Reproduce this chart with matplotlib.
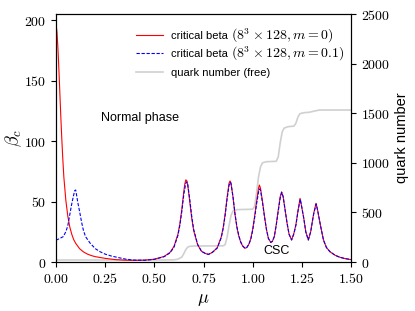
import matplotlib
matplotlib.use("Agg")
import matplotlib.pyplot as plt
from matplotlib.ticker import FuncFormatter, MultipleLocator

plt.rcParams['mathtext.fontset'] = 'cm'
plt.rcParams['font.family'] = ['Liberation Sans', 'DejaVu Sans']

# critical beta, m = 0
mu_red = [0.0, 0.005, 0.01, 0.015, 0.02, 0.025, 0.03, 0.035, 0.04, 0.05, 0.06, 0.07, 0.08,
          0.09, 0.10, 0.12, 0.14, 0.16, 0.18, 0.20, 0.25, 0.30, 0.35, 0.40, 0.45, 0.50,
          0.55, 0.58, 0.60, 0.62, 0.63, 0.64, 0.65, 0.655, 0.66, 0.665, 0.67, 0.68, 0.69,
          0.70, 0.72, 0.74, 0.76, 0.775, 0.79, 0.80, 0.82, 0.84, 0.85, 0.86, 0.87, 0.88,
          0.885, 0.89, 0.90, 0.91, 0.92, 0.93, 0.94, 0.95, 0.961, 0.97, 0.98, 0.99, 1.00,
          1.01, 1.02, 1.03, 1.034, 1.04, 1.05, 1.06, 1.07, 1.08, 1.092, 1.10, 1.11, 1.12,
          1.13, 1.14, 1.147, 1.155, 1.165, 1.175, 1.185, 1.198, 1.21, 1.22, 1.23, 1.241,
          1.25, 1.26, 1.27, 1.283, 1.295, 1.31, 1.322, 1.33, 1.345, 1.36, 1.375, 1.393,
          1.42, 1.444, 1.47, 1.50]
beta_red = [197, 190, 176, 158, 138, 118, 100, 84, 70, 51, 38, 29, 23,
            18.5, 15.5, 11, 8.3, 6.5, 5.3, 4.4, 3.0, 2.0, 1.5, 1.3, 1.5, 2.3,
            4.6, 8.0, 12.9, 23, 31.8, 44, 58.6, 64.5, 67.9, 67.3, 63.5, 50, 36.4,
            26, 14.3, 8.8, 7.0, 6.3, 7.5, 8.7, 11.8, 20.6, 28.4, 39.6, 53.6, 65.2,
            67, 65.2, 53.6, 39.6, 28.4, 21, 16, 13, 11.3, 12, 14.5, 19, 27,
            38, 50, 61, 63.6, 61, 50, 38, 27, 19.5, 16.2, 17, 21, 31,
            43, 54, 58, 54, 43, 32, 23, 18.2, 24, 31, 42, 52.6,
            45, 36, 25, 18.2, 25, 40, 48.5, 43, 30, 18.2, 12, 8.5,
            5.5, 3.9, 2.8, 2.0]

# critical beta, m = 0.1
mu_blue = [0.0, 0.02, 0.037, 0.05, 0.06, 0.071, 0.08, 0.088, 0.095, 0.10, 0.105, 0.11,
           0.122, 0.13, 0.139, 0.15, 0.173, 0.20, 0.224, 0.25, 0.28, 0.31, 0.35, 0.39,
           0.45, 0.50, 0.55, 0.58, 0.60, 0.62, 0.63, 0.64, 0.65, 0.66, 0.665, 0.67, 0.68,
           0.69, 0.70, 0.72, 0.74, 0.76, 0.775, 0.79, 0.80, 0.82, 0.84, 0.85, 0.86, 0.87,
           0.88, 0.887, 0.89, 0.90, 0.91, 0.92, 0.93, 0.94, 0.95, 0.961, 0.97, 0.98, 0.99,
           1.00, 1.01, 1.02, 1.03, 1.036, 1.04, 1.05, 1.06, 1.07, 1.08, 1.092, 1.10, 1.11,
           1.12, 1.13, 1.14, 1.148, 1.155, 1.165, 1.175, 1.185, 1.198, 1.21, 1.22, 1.23,
           1.242, 1.25, 1.26, 1.27, 1.283, 1.295, 1.31, 1.323, 1.33, 1.345, 1.36, 1.375,
           1.393, 1.42, 1.444, 1.47, 1.50]
beta_blue = [18, 19.5, 21, 25, 30, 40, 48, 54, 59, 59.5, 55, 50,
             40, 33, 26.4, 21, 15.7, 11, 8.5, 6.5, 5.0, 3.9, 2.5, 1.6,
             1.4, 2.2, 4.4, 7.6, 12.3, 22, 30.5, 42, 56, 65, 66.3, 64, 52,
             38, 27, 14.6, 8.8, 7.0, 6.3, 7.4, 8.6, 11.6, 20, 27.5, 38.5, 52,
             63.5, 66, 64.5, 54, 40, 29, 21.5, 16.3, 13.2, 11.4, 12, 14.4, 18.5,
             26, 36.5, 48, 58, 60.5, 59, 49, 37.5, 27, 19.5, 16.2, 17, 21,
             30.5, 42, 53, 57.5, 54, 43, 32, 23, 18.2, 23.5, 30.5, 41.5,
             52, 45, 36, 25, 18.2, 25, 39.5, 48, 43, 30, 18.2, 12,
             8.5, 5.5, 3.9, 2.8, 2.0]

# quark number (free)
mu_q = [0.0, 0.55, 0.60, 0.62, 0.64, 0.65, 0.66, 0.67, 0.68, 0.70, 0.85, 0.86, 0.87,
        0.88, 0.89, 0.90, 0.92, 1.00, 1.01, 1.02, 1.03, 1.04, 1.05, 1.07, 1.12, 1.13,
        1.14, 1.15, 1.16, 1.18, 1.21, 1.22, 1.23, 1.24, 1.26, 1.29, 1.31, 1.34, 1.50]
quark = [20, 20, 22, 28, 50, 85, 125, 150, 158, 161, 163, 175, 250,
         370, 470, 515, 528, 532, 560, 700, 860, 960, 1000, 1011, 1015, 1060,
         1200, 1310, 1350, 1364, 1370, 1400, 1460, 1495, 1505, 1510, 1520, 1532, 1532]

legend_text = ['critical beta', 'critical beta', 'quark number (free)']
legend_math = [r'$(8^3\times 128, m=0)$', r'$(8^3\times 128, m=0.1)$', '']

fig = plt.figure(figsize=(4.15, 3.11), dpi=100)
ax = fig.add_axes([56/415, 1 - 262/311, 295/415, 248/311])
ax2 = ax.twinx()
ax.set_zorder(ax2.get_zorder() + 1)
ax.patch.set_visible(False)

l1, = ax.plot(mu_red, beta_red, color='red', lw=0.8)
l2, = ax.plot(mu_blue, beta_blue, color='blue', lw=0.8, ls=(0, (3, 1.5)))
l3, = ax2.plot(mu_q, quark, color='#d0d0d0', lw=1.2)

ax.set_xlim(0, 1.5)
ax.set_ylim(0, 205)
ax2.set_ylim(0, 2500)

ax.xaxis.set_major_locator(MultipleLocator(0.25))
ax.yaxis.set_major_locator(MultipleLocator(50))
ax2.yaxis.set_major_locator(MultipleLocator(500))
ax.xaxis.set_major_formatter(FuncFormatter(lambda v, p: r'$%.2f$' % v))
ax.yaxis.set_major_formatter(FuncFormatter(lambda v, p: r'$%d$' % round(v)))
ax2.yaxis.set_major_formatter(FuncFormatter(lambda v, p: r'$%d$' % round(v)))
for a in (ax, ax2):
    a.tick_params(labelsize=10)

ax.set_xlabel(r'$\mu$', fontsize=13)
ax.set_ylabel(r'$\beta_c$', fontsize=13, labelpad=0)
ax2.set_ylabel('quark number', fontsize=10.5)

ax.text(0.229, 119, 'Normal phase', fontsize=9, ha='left', va='center')
ax.text(1.053, 9, 'CSC', fontsize=9, ha='left', va='center')

leg = ax.legend(handles=[l1, l2, l3], labels=legend_text, loc='upper left',
                frameon=False, fontsize=8, handlelength=2.4, handletextpad=0.75,
                borderaxespad=0, borderpad=0, labelspacing=0.75,
                bbox_to_anchor=((136 - 56) / 295, 0.932))

fig.canvas.draw()
renderer = fig.canvas.get_renderer()
inv = fig.transFigure.inverted()
for t, m in zip(leg.get_texts(), legend_math):
    if not m:
        continue
    bb = t.get_window_extent(renderer)
    x0, y0 = inv.transform((bb.x1 + 3, (bb.y0 + bb.y1) / 2))
    fig.text(x0, y0, m, fontsize=10, ha='left', va='center')

fig.savefig('out.png', dpi=100)
